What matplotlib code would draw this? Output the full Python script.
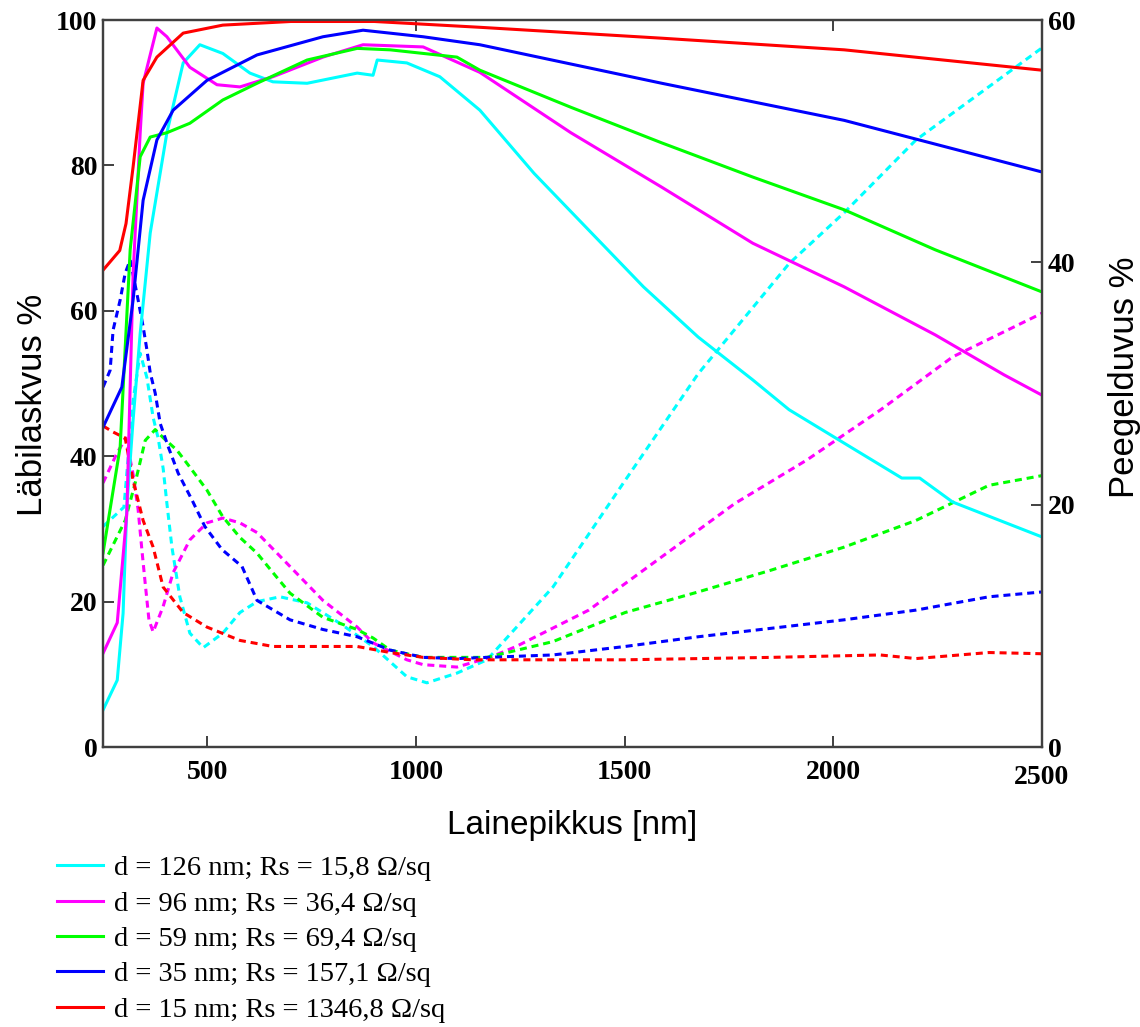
import matplotlib
matplotlib.use("Agg")
import matplotlib.pyplot as plt
import matplotlib.transforms as mtransforms

# ---- transmission (left axis, %), solid lines ----
t126_x = [250, 284, 298, 307, 322, 339, 363, 403, 442, 482, 537, 602, 657, 739, 859, 897, 907,
          978, 1057, 1153, 1283, 1414, 1545, 1676, 1807, 1894, 2026, 2164, 2207, 2286, 2500]
t126_y = [5.1, 9.2, 18.4, 33.0, 45.0, 56.9, 70.7, 84.5, 94.1, 96.6, 95.4, 92.7, 91.5, 91.3, 92.7, 92.4, 94.5,
          94.1, 92.2, 87.6, 78.9, 71.1, 63.3, 56.4, 50.5, 46.4, 41.8, 37.0, 37.0, 33.7, 28.9]

t96_x = [250, 284, 307, 322, 339, 346, 379, 403, 458, 523, 578, 657, 777, 873, 1017, 1153,
         1371, 1589, 1807, 2026, 2244, 2409, 2500]
t96_y = [12.9, 17.1, 32.2, 65.0, 84.5, 91.3, 98.9, 97.7, 93.5, 91.1, 90.8, 92.2, 94.9, 96.6, 96.3, 92.8,
         84.5, 77.0, 69.3, 63.3, 56.7, 51.2, 48.4]

t59_x = [250, 291, 315, 339, 363, 403, 458, 537, 619, 739, 859, 938, 1098, 1153, 1371, 1589,
         1807, 2026, 2244, 2500]
t59_y = [26.7, 41.3, 68.4, 81.2, 83.9, 84.5, 85.8, 89.0, 91.3, 94.5, 96.1, 95.9, 94.9, 93.1, 88.0, 83.1,
         78.4, 73.9, 68.4, 62.6]

t35_x = [250, 295, 322, 346, 379, 418, 499, 619, 777, 873, 1017, 1153, 1589, 2026, 2500]
t35_y = [44.0, 49.5, 61.5, 75.2, 83.5, 87.6, 91.7, 95.2, 97.7, 98.6, 97.7, 96.6, 91.3, 86.2, 79.1]

t15_x = [250, 290, 305, 322, 346, 379, 442, 537, 700, 900, 1153, 1589, 2026, 2500]
t15_y = [65.6, 68.3, 72.0, 79.8, 91.7, 94.9, 98.2, 99.3, 99.8, 99.8, 99.0, 97.5, 95.9, 93.1]

# ---- reflection (right axis, %), dashed lines ----
r126_x = [250, 300, 322, 339, 355, 370, 382, 394, 403, 415, 434, 458, 490, 537, 578, 619, 674, 739,
          818, 897, 978, 1026, 1098, 1170, 1328, 1501, 1676, 1894, 2026, 2198, 2373, 2500]
r126_y = [18.2, 19.8, 28.6, 32.5, 30.5, 27.2, 25.5, 23.0, 20.1, 16.5, 12.4, 9.4, 8.2, 9.4, 11.1, 12.0, 12.4, 11.9,
          10.2, 8.3, 5.8, 5.3, 6.1, 7.2, 13.2, 22.0, 30.8, 39.9, 44.1, 50.1, 54.5, 57.7]

r96_x = [250, 284, 305, 322, 334, 343, 351, 360, 370, 394, 418, 458, 499, 537, 578, 619, 698, 777,
         859, 897, 978, 1017, 1098, 1177, 1240, 1414, 1589, 1764, 1937, 2112, 2286, 2500]
r96_y = [21.8, 24.3, 25.5, 22.5, 19.6, 16.3, 13.5, 10.5, 9.5, 11.6, 14.4, 17.1, 18.5, 18.9, 18.5, 17.7, 14.9, 12.1,
         9.9, 8.6, 7.2, 6.8, 6.6, 7.4, 8.3, 11.3, 15.7, 20.1, 23.7, 27.8, 32.2, 35.8]

r59_x = [250, 303, 327, 351, 375, 395, 427, 458, 499, 537, 578, 619, 657, 698, 777, 859, 897, 938,
         1017, 1170, 1328, 1501, 1676, 1851, 2026, 2198, 2373, 2500]
r59_y = [15.0, 18.7, 21.8, 25.3, 26.2, 25.5, 24.5, 23.1, 21.2, 19.0, 17.3, 16.0, 14.4, 12.7, 10.7, 9.7, 9.0, 8.0,
         7.4, 7.4, 8.7, 11.1, 12.8, 14.6, 16.5, 18.7, 21.6, 22.4]

r35_x = [250, 267, 274, 291, 303, 315, 334, 346, 355, 363, 375, 387, 406, 430, 463, 494, 535, 583,
         619, 698, 777, 859, 938, 1017, 1098, 1170, 1328, 1501, 1676, 1851, 2026, 2198, 2373, 2500]
r35_y = [29.7, 31.1, 34.4, 36.9, 39.1, 40.2, 36.9, 34.7, 32.8, 30.9, 29.2, 26.7, 24.8, 22.6, 20.4, 18.2, 16.3, 14.9,
         12.1, 10.5, 9.7, 9.1, 8.0, 7.4, 7.3, 7.4, 7.6, 8.3, 9.1, 9.8, 10.5, 11.3, 12.4, 12.8]

r15_x = [250, 274, 303, 322, 346, 370, 394, 442, 499, 578, 657, 777, 859, 938, 1017, 1136,
         1501, 1851, 2112, 2198, 2373, 2500]
r15_y = [26.5, 26.0, 25.5, 22.0, 18.7, 16.5, 13.2, 11.1, 9.9, 8.8, 8.3, 8.3, 8.3, 7.8, 7.4, 7.2,
         7.2, 7.4, 7.6, 7.3, 7.8, 7.7]

labels = [
    "d = 126 nm; Rs = 15,8 Ω/sq",
    "d = 96 nm; Rs = 36,4 Ω/sq",
    "d = 59 nm; Rs = 69,4 Ω/sq",
    "d = 35 nm; Rs = 157,1 Ω/sq",
    "d = 15 nm; Rs = 1346,8 Ω/sq",
]
colors = ["#00FFFF", "#FF00FF", "#00FF00", "#0000FF", "#FF0000"]

trans = [(t126_x, t126_y), (t96_x, t96_y), (t59_x, t59_y), (t35_x, t35_y), (t15_x, t15_y)]
refl = [(r126_x, r126_y), (r96_x, r96_y), (r59_x, r59_y), (r35_x, r35_y), (r15_x, r15_y)]

serif = "Liberation Serif"
sans = "Liberation Sans"
spine_col = "#404040"

fig = plt.figure(figsize=(11.4, 10.27), dpi=100)
ax = fig.add_axes([0.0904, 0.2726, 0.8236, 0.7079])
ax2 = ax.twinx()

# dashed reflection curves first so the solid ones sit on top
for (x, y), c in zip(refl, colors):
    ax2.plot(x, y, color=c, linewidth=2.2, linestyle=(0, (2.3, 1.6)))

handles = []
for (x, y), c in zip(trans, colors):
    h, = ax.plot(x, y, color=c, linewidth=2.2)
    handles.append(h)

ax.set_zorder(ax2.get_zorder() + 1)
ax.patch.set_visible(False)

ax.set_xlim(250, 2500)
ax.set_ylim(0, 100)
ax2.set_ylim(0, 60)

ax.set_xticks([500, 1000, 1500, 2000, 2500])
ax.set_yticks([0, 20, 40, 60, 80, 100])
ax2.set_yticks([0, 20, 40, 60])

for a in (ax, ax2):
    for s in a.spines.values():
        s.set_color(spine_col)
        s.set_linewidth(1.6)
    a.tick_params(direction="in", length=8, width=1.4, color=spine_col, labelsize=20)

ax.tick_params(axis="x", pad=9)
ax.tick_params(axis="y", pad=4)
ax2.tick_params(axis="y", pad=4)

for lab in ax.get_xticklabels() + ax.get_yticklabels() + ax2.get_yticklabels():
    lab.set_fontfamily(serif)
    lab.set_fontweight("bold")

# last x label sits a little lower, under the right-axis "0"
xlabs = ax.get_xticklabels()
shift = mtransforms.ScaledTranslation(0, -4 / 72, fig.dpi_scale_trans)
xlabs[-1].set_transform(xlabs[-1].get_transform() + shift)

top = ax.secondary_xaxis("top")
top.set_xticks([1000, 2000])
top.set_xticklabels([])
top.tick_params(direction="in", length=8, width=1.4, color=spine_col)
top.spines["top"].set_visible(False)

ax.set_xlabel("Lainepikkus [nm]", fontfamily=sans, fontsize=24, labelpad=14)
ax.set_ylabel("Läbilaskvus %", fontfamily=sans, fontsize=25)
ax2.set_ylabel("Peegelduvus %", fontfamily=sans, fontsize=25)
ax.yaxis.set_label_coords(-0.058, 0.47)
ax2.yaxis.set_label_coords(1.07, 0.508)

fig.legend(
    handles, labels,
    loc="upper left",
    bbox_to_anchor=(0.05, 0.167),
    frameon=False,
    prop={"family": serif, "size": 20.5},
    handlelength=1.6,
    handletextpad=0.4,
    labelspacing=0.33,
    borderpad=0,
    borderaxespad=0,
)

fig.savefig("out.png", dpi=100)
